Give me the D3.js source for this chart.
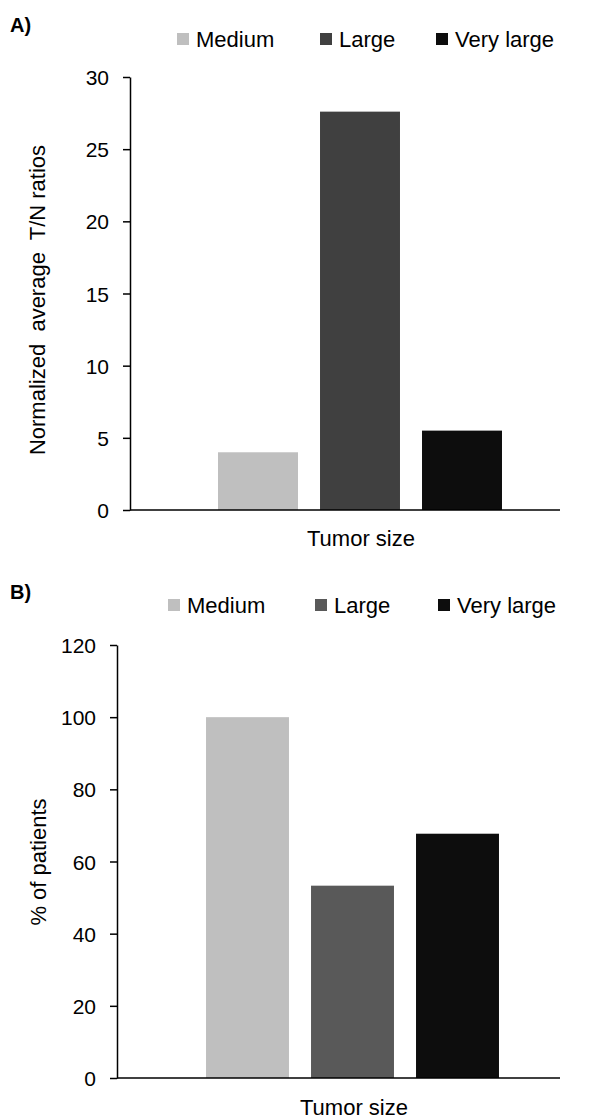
<!DOCTYPE html>
<html>
<head>
<meta charset="utf-8">
<script src="https://cdn.jsdelivr.net/npm/d3@7"></script>
<style>
  body { margin: 0; background: #fff; }
  svg { display: block; font-family: "Liberation Sans", Arial, sans-serif; }
  .tick text { font-size: 21px; fill: #000; }
  .domain, .tick line { stroke: #000; stroke-width: 1.5; }
</style>
</head>
<body>
<div id="chart"></div>
<script>
const WIDTH = 589;
const HEIGHT = 1120;

// data
const sizes = ["Medium", "Large", "Very large"];
const ratioValues = [4.0, 27.6, 5.5];
const patientValues = [100, 53.3, 67.7];
const ratioTicks = [0, 5, 10, 15, 20, 25, 30];
const patientTicks = [0, 20, 40, 60, 80, 100, 120];
const ratioColors = ["#bfbfbf", "#404040", "#0d0d0d"];
const patientColors = ["#bfbfbf", "#595959", "#0d0d0d"];

const SVG = d3.select("#chart")
  .append("svg")
    .attr("width", WIDTH)
    .attr("height", HEIGHT);

function build_panel(cfg) {
  const g = SVG.append("g");

  const Y_SCALE = d3.scaleLinear()
    .domain([0, d3.max(cfg.ticks)])
    .range([cfg.zero, cfg.top]);

  const X_SCALE = d3.scaleBand()
    .domain(sizes)
    .range(cfg.band)
    .paddingInner(cfg.pad)
    .paddingOuter(cfg.pad / 2);

  const color = d3.scaleOrdinal().domain(sizes).range(cfg.colors);

  // bars
  g.selectAll("rect.bar")
    .data(sizes.map((s, i) => ({ size: s, value: cfg.values[i] })))
    .enter()
    .append("rect")
      .attr("class", "bar")
      .attr("x", d => X_SCALE(d.size))
      .attr("y", d => Y_SCALE(d.value))
      .attr("width", X_SCALE.bandwidth())
      .attr("height", d => cfg.zero - Y_SCALE(d.value))
      .attr("fill", d => color(d.size));

  // y axis
  g.append("g")
    .attr("transform", `translate(${cfg.axisX},0)`)
    .call(d3.axisLeft(Y_SCALE).tickValues(cfg.ticks).tickSize(7).tickSizeOuter(0).tickPadding(14))
    .call(a => a.selectAll(".tick text").attr("dy", "0.36em"));

  // x axis line
  g.append("line")
    .attr("x1", cfg.axisX).attr("x2", cfg.right)
    .attr("y1", cfg.zero).attr("y2", cfg.zero)
    .attr("stroke", "#000").attr("stroke-width", 1.5);

  // titles
  g.append("text")
    .attr("x", cfg.xTitle[0]).attr("y", cfg.xTitle[1])
    .attr("text-anchor", "middle")
    .style("font-size", "22px")
    .text("Tumor size");

  g.append("text")
    .attr("transform", `translate(${cfg.yTitle[0]},${cfg.yTitle[1]}) rotate(-90)`)
    .attr("text-anchor", "middle")
    .attr("dy", "0.36em")
    .style("font-size", "22px")
    .style("white-space", "pre")
    .text(cfg.yLabel);

  g.append("text")
    .attr("x", 10).attr("y", cfg.tagY)
    .style("font-size", "20px")
    .style("font-weight", "bold")
    .text(cfg.tag);

  // legend
  const leg = g.selectAll("g.legend")
    .data(sizes)
    .enter()
    .append("g")
      .attr("class", "legend")
      .attr("transform", (d, i) => `translate(${cfg.legendX[i]},${cfg.legendY})`);

  leg.append("rect")
    .attr("x", 0).attr("y", -14)
    .attr("width", 12).attr("height", 12)
    .attr("fill", d => color(d));

  leg.append("text")
    .attr("x", 19).attr("y", 0)
    .style("font-size", "22px")
    .text(d => d);
}

build_panel({
  values: ratioValues, ticks: ratioTicks, colors: ratioColors,
  axisX: 130, top: 77, zero: 510, right: 560,
  band: [207, 513], pad: 0.216,
  xTitle: [361, 546], yTitle: [37, 300],
  yLabel: "Normalized  average  T/N ratios",
  tag: "A)", tagY: 32,
  legendX: [177, 320, 436], legendY: 47
});

build_panel({
  values: patientValues, ticks: patientTicks, colors: patientColors,
  axisX: 117, top: 645, zero: 1078, right: 560,
  band: [195, 510], pad: 0.21,
  xTitle: [354, 1115], yTitle: [38, 862],
  yLabel: "% of patients",
  tag: "B)", tagY: 599,
  legendX: [168, 315, 438], legendY: 613
});
</script>
</body>
</html>
